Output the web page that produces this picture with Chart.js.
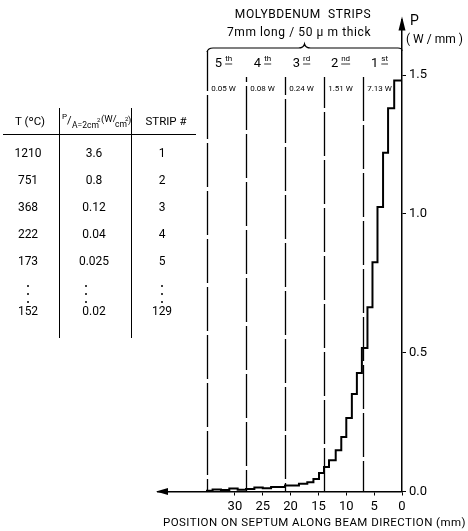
<!DOCTYPE html>
<html>
<head>
<meta charset="utf-8">
<script src="https://cdn.jsdelivr.net/npm/chart.js@4/dist/chart.umd.min.js"></script>
<style>html,body{margin:0;padding:0;background:#fff}</style>
</head>
<body>
<canvas id="c" width="468" height="531"></canvas>
<script>
// power profile along the septum: start of each step (mm) and P (W/mm)
const stepStart = [0, 1.4, 2.5, 3.4, 4.4, 5.3, 6.2, 7.2, 8.1, 9.0, 10.0, 10.9, 11.9, 13.1, 14.0, 14.9, 15.9, 17.0, 18.5, 21.0, 23.5, 25.0, 26.5, 28.0, 29.5, 31.0, 32.5, 34.0];
const stepPower = [1.48, 1.38, 1.22, 1.025, 0.826, 0.664, 0.517, 0.427, 0.351, 0.265, 0.196, 0.149, 0.113, 0.088, 0.067, 0.045, 0.033, 0.028, 0.022, 0.016, 0.012, 0.014, 0.009, 0.006, 0.011, 0.005, 0.007, 0.003];
const profileEnd = 35;

const xTicks = [0, 5, 10, 15, 20, 25, 30];
const yTicks = [0, 0.5, 1.0, 1.5];

// strips, counted from the downstream end
const stripEdges = [7, 14, 21, 28, 35];
const stripNum = ['1', '2', '3', '4', '5'];
const stripSuffix = ['st', 'nd', 'rd', 'th', 'th'];
const stripPower = ['7.13 W', '1.51 W', '0.24 W', '0.08 W', '0.05 W'];

// table on the left
const tableT = ['1210', '751', '368', '222', '173', '152'];
const tableP = ['3.6', '0.8', '0.12', '0.04', '0.025', '0.02'];
const tableStrip = ['1', '2', '3', '4', '5', '129'];

const FONT = 'Roboto, "DejaVu Sans", sans-serif';

const points = stepStart.map((x, i) => ({ x: x, y: stepPower[i] }));
points.push({ x: profileEnd, y: 0 });

const sketch = {
    id: 'sketch',
    afterDraw(chart) {
        const ctx = chart.ctx;
        const xs = chart.scales.x, ys = chart.scales.y;
        const area = chart.chartArea;
        const y0 = ys.getPixelForValue(0);
        const xAxis = xs.getPixelForValue(0);
        ctx.save();
        ctx.fillStyle = '#000';
        ctx.strokeStyle = '#000';

        // arrow heads
        ctx.beginPath();
        ctx.moveTo(area.left - 2, y0);
        ctx.lineTo(area.left + 10, y0 - 3.5);
        ctx.lineTo(area.left + 10, y0 + 3.5);
        ctx.fill();
        ctx.beginPath();
        ctx.moveTo(xAxis, area.top - 3);
        ctx.lineTo(xAxis - 3.5, area.top + 11);
        ctx.lineTo(xAxis + 3.5, area.top + 11);
        ctx.fill();

        // strip boundaries
        ctx.lineWidth = 1.3;
        stripEdges.forEach((e, i) => {
            const px = Math.round(xs.getPixelForValue(e)) + 0.5;
            ctx.setLineDash([44, 4]);
            ctx.lineDashOffset = i * 13;
            ctx.beginPath();
            ctx.moveTo(px, i === stripEdges.length - 1 ? 51 : 77);
            ctx.lineTo(px, y0);
            ctx.stroke();
        });
        ctx.setLineDash([]);

        // brace over the strips
        const bl = xs.getPixelForValue(35), br = xAxis;
        const bm = (bl + br) / 2;
        ctx.lineWidth = 1.2;
        ctx.beginPath();
        ctx.moveTo(bl, 52);
        ctx.quadraticCurveTo(bl + 1, 48, bl + 6, 48);
        ctx.lineTo(bm - 6, 48);
        ctx.quadraticCurveTo(bm - 1, 48, bm, 44);
        ctx.quadraticCurveTo(bm + 1, 48, bm + 6, 48);
        ctx.lineTo(br - 4, 48);
        ctx.quadraticCurveTo(br, 48, br, 51);
        ctx.stroke();

        // strip names and powers
        ctx.textBaseline = 'middle';
        stripEdges.forEach((e, i) => {
            const c = xs.getPixelForValue(e - 3.5) - 3;
            ctx.font = '13px ' + FONT;
            const w1 = ctx.measureText(stripNum[i]).width;
            ctx.font = '8px ' + FONT;
            const w2 = ctx.measureText(stripSuffix[i]).width;
            const sx = c - (w1 + 3 + w2) / 2;
            ctx.textAlign = 'left';
            ctx.font = '13px ' + FONT;
            ctx.fillText(stripNum[i], sx, 64);
            ctx.font = '8px ' + FONT;
            ctx.fillText(stripSuffix[i], sx + w1 + 3, 59);
            ctx.lineWidth = 0.8;
            ctx.beginPath();
            ctx.moveTo(sx + w1 + 3, 64);
            ctx.lineTo(sx + w1 + 3 + w2, 64);
            ctx.stroke();
            ctx.textAlign = 'center';
            ctx.font = '8px ' + FONT;
            ctx.fillText(stripPower[i], xs.getPixelForValue(e - 3.5) - 3, 89);
        });

        // headings
        ctx.textAlign = 'center';
        ctx.font = '12px ' + FONT;
        ctx.letterSpacing = '0.6px';
        ctx.fillText('MOLYBDENUM  STRIPS', 303, 15);
        ctx.fillText('7mm long / 50 \u00b5 m thick', 299, 33);
        ctx.letterSpacing = '0px';
        ctx.textAlign = 'left';
        ctx.font = '14px ' + FONT;
        ctx.fillText('P', 410, 21);
        ctx.font = '12px ' + FONT;
        ctx.fillText('( W / mm )', 406, 40);

        // x axis title
        ctx.font = '11.5px ' + FONT;
        const title = 'POSITION ON SEPTUM ALONG BEAM DIRECTION (mm)';
        const tw = ctx.measureText(title).width;
        ctx.letterSpacing = ((303 - tw) / title.length).toFixed(2) + 'px';
        ctx.fillText(title, 163, 523);
        ctx.letterSpacing = '0px';

        // table
        ctx.lineWidth = 1;
        ctx.beginPath();
        ctx.moveTo(3, 134.5); ctx.lineTo(196, 134.5);
        ctx.moveTo(59.5, 108); ctx.lineTo(59.5, 338);
        ctx.moveTo(131.5, 108); ctx.lineTo(131.5, 338);
        ctx.stroke();

        ctx.textAlign = 'center';
        ctx.font = '11.5px ' + FONT;
        ctx.fillText('T (\u00baC)', 30, 122);
        ctx.fillText('STRIP #', 166, 122);
        ctx.textAlign = 'left';
        ctx.font = '8px ' + FONT;
        ctx.fillText('P', 62, 117);
        ctx.font = '11px ' + FONT;
        ctx.fillText('/', 67, 121);
        ctx.font = '8.5px ' + FONT;
        ctx.fillText('A=2cm', 72, 126);
        ctx.font = '6px ' + FONT;
        ctx.fillText('2', 97, 120);
        ctx.font = '9.5px ' + FONT;
        ctx.fillText('(W/', 101, 120);
        ctx.font = '8.5px ' + FONT;
        ctx.fillText('cm', 115, 125);
        ctx.font = '6px ' + FONT;
        ctx.fillText('2', 125, 119);
        ctx.font = '9.5px ' + FONT;
        ctx.fillText(')', 128, 121);

        const rowY = [154, 181, 208, 235, 262, 312];
        ctx.textAlign = 'center';
        ctx.font = '12px ' + FONT;
        rowY.forEach((ry, i) => {
            ctx.fillText(tableT[i], 28, ry);
            ctx.fillText(tableP[i], 94, ry);
            ctx.fillText(tableStrip[i], 162, ry);
        });
        [[28, 0], [94, -8], [162, 0]].forEach(([cx, dx]) => {
            [286, 294, 302].forEach(dy => {
                ctx.beginPath();
                ctx.arc(cx + dx, dy, 1, 0, Math.PI * 2);
                ctx.fill();
            });
        });
        ctx.restore();
    }
};

new Chart(document.getElementById('c'), {
    type: 'line',
    data: {
        datasets: [{
            data: points,
            stepped: true,
            borderColor: '#000',
            borderWidth: 2,
            pointRadius: 0,
            fill: false,
            clip: 4
        }]
    },
    options: {
        responsive: false,
        animation: false,
        devicePixelRatio: 1,
        layout: { padding: { left: 158, top: 19.5 } },
        plugins: { legend: { display: false }, tooltip: { enabled: false } },
        scales: {
            x: {
                type: 'linear',
                reverse: true,
                min: 0,
                max: 43.8,
                afterFit: s => { s.height = 531 - 491.5; },
                afterBuildTicks: s => { s.ticks = xTicks.map(v => ({ value: v })); },
                grid: { drawOnChartArea: false, drawTicks: true, tickLength: 4, color: '#000', lineWidth: 1 },
                border: { color: '#000', width: 1.5 },
                ticks: { color: '#000', font: { size: 13, family: FONT }, padding: 3, maxRotation: 0, autoSkip: false }
            },
            y: {
                position: 'right',
                min: 0,
                max: 1.7,
                afterFit: s => { s.width = 468 - 402; },
                afterBuildTicks: s => { s.ticks = yTicks.map(v => ({ value: v })); },
                grid: { drawOnChartArea: false, drawTicks: true, tickLength: 4, color: '#000', lineWidth: 1 },
                border: { color: '#000', width: 1.5 },
                ticks: { color: '#000', font: { size: 13, family: FONT }, padding: 3, callback: v => Number(v).toFixed(1) }
            }
        }
    },
    plugins: [sketch]
});
</script>
</body>
</html>
